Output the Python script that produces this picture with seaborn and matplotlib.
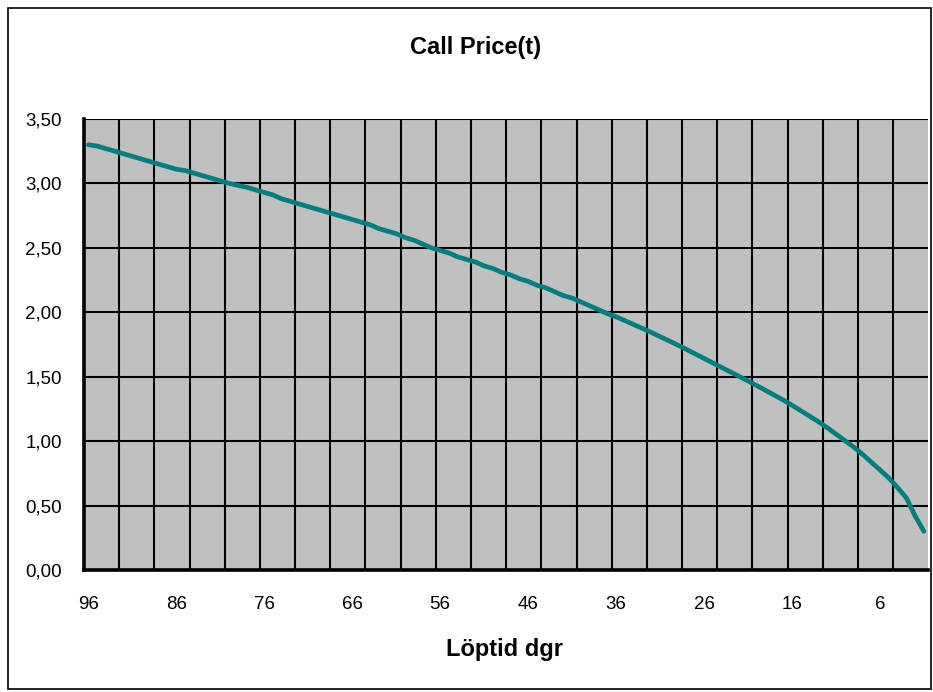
import numpy as np
import pandas as pd
import matplotlib
matplotlib.use("Agg")
import matplotlib.pyplot as plt
from matplotlib.patches import Rectangle
import seaborn as sns

# Days to expiry (category axis, left to right) and the option price per day
days = list(range(96, 0, -1))
call_price = [
    3.30, 3.29, 3.27, 3.25, 3.23, 3.21, 3.19, 3.17, 3.15, 3.13,
    3.11, 3.10, 3.08, 3.06, 3.04, 3.02, 3.00, 2.985, 2.97, 2.95,
    2.93, 2.91, 2.88, 2.86, 2.84, 2.82, 2.80, 2.78, 2.76, 2.74,
    2.72, 2.70, 2.68, 2.65, 2.63, 2.61, 2.58, 2.56, 2.53, 2.50,
    2.48, 2.46, 2.43, 2.41, 2.39, 2.36, 2.34, 2.31, 2.29, 2.26,
    2.24, 2.21, 2.19, 2.16, 2.13, 2.11, 2.08, 2.05, 2.02, 1.99,
    1.965, 1.935, 1.905, 1.875, 1.844, 1.811, 1.779, 1.746, 1.712, 1.677,
    1.642, 1.607, 1.572, 1.537, 1.502, 1.467, 1.431, 1.394, 1.356, 1.319,
    1.279, 1.236, 1.194, 1.151, 1.105, 1.055, 1.005, 0.955, 0.899, 0.838,
    0.777, 0.715, 0.64, 0.56, 0.42, 0.30,
]
x_label_days = [96, 86, 76, 66, 56, 46, 36, 26, 16, 6]
y_ticks = [0.0, 0.5, 1.0, 1.5, 2.0, 2.5, 3.0, 3.5]
y_tick_labels = ["0,00", "0,50", "1,00", "1,50", "2,00", "2,50", "3,00", "3,50"]

title = "Call Price(t)"
x_title = "Löptid dgr"

df = pd.DataFrame({"pos": np.arange(len(days)), "day": days, "price": call_price})

sns.set_theme(style="white")
plt.rcParams["font.family"] = ["Liberation Sans", "DejaVu Sans"]

fig = plt.figure(figsize=(9.33, 6.92), dpi=100)
fig.patch.set_facecolor("white")
ax = fig.add_axes([84 / 933, 1 - 570 / 692, (928.3 - 84) / 933, (570 - 119) / 692])
ax.set_facecolor("#C0C0C0")

n = len(days)
# Vertical grid lines every 4 categories, on category boundaries
for b in np.arange(3.5, n - 1, 4):
    ax.axvline(b, color="black", lw=1.5, zorder=1)

sns.lineplot(data=df, x="pos", y="price", color="#008080", linewidth=3.4,
             ax=ax, zorder=3, legend=False)

ax.set_xlim(-0.5, n - 0.5)
ax.set_ylim(0, 3.5)

# X axis: labels centred on categories, cross tick marks on boundaries
label_pos = [days.index(d) for d in x_label_days]
ax.set_xticks(label_pos)
ax.set_xticklabels([str(d) for d in x_label_days])
ax.set_xticks(np.arange(-0.5, n, 2), minor=True)
ax.tick_params(axis="x", which="major", length=0, pad=18.5, labelsize=13.5, colors="black")
ax.tick_params(axis="x", which="minor", direction="inout", length=10, width=2.2, color="black")

# Y axis
ax.set_yticks(y_ticks)
ax.set_yticklabels(y_tick_labels)
ax.set_yticks(np.arange(0, 3.51, 0.1), minor=True)
ax.tick_params(axis="y", which="major", direction="inout", length=14, width=2.2,
               pad=9, labelsize=13.5, colors="black")
ax.tick_params(axis="y", which="minor", direction="inout", length=9, width=2.2, color="black")
ax.yaxis.grid(True, which="major", color="black", lw=1.5, zorder=1)
ax.set_axisbelow(True)

for s in ["top", "right"]:
    ax.spines[s].set_visible(False)
for s in ["left", "bottom"]:
    ax.spines[s].set_color("black")
    ax.spines[s].set_linewidth(2.6)
    ax.spines[s].set_zorder(4)

ax.set_ylabel("")
ax.set_xlabel(x_title, fontsize=17, fontweight="bold", color="black")
ax.xaxis.set_label_coords(0.4986, -0.1907)
ax.xaxis.label.set_va("baseline")

ax.set_title(title, fontsize=17, fontweight="bold", color="black",
             x=(476 - 84) / 844.3, y=(570 - 54) / 451, va="baseline", pad=0)

# Chart area border
fig.patches.append(Rectangle((8 / 933, 3 / 692), 923 / 933, 681 / 692,
                             transform=fig.transFigure, fill=False,
                             edgecolor="black", linewidth=1.2))

fig.savefig("out.png", dpi=100, facecolor="white")
